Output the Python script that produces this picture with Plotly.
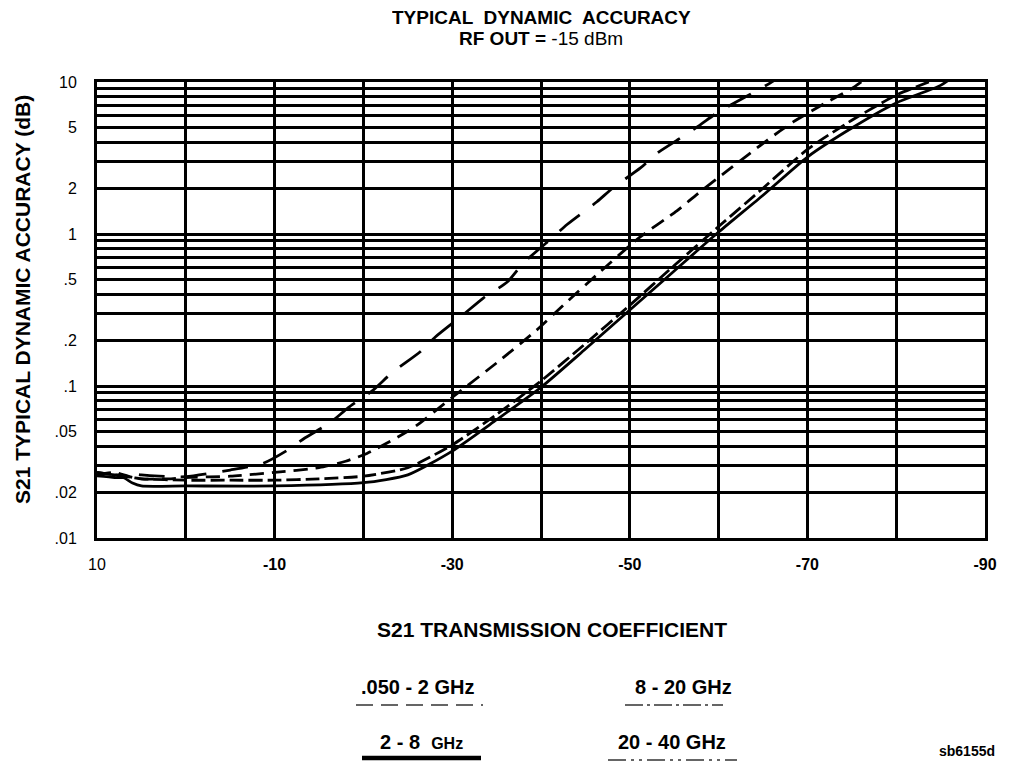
import plotly.graph_objects as go

FONT = "Liberation Sans, Arial, Helvetica, sans-serif"

# ---------------- data ----------------
# S21 transmission coefficient (dB) vs typical dynamic accuracy (dB)
x_050_2 = [10, 8, 6, 5, 3, 0, -5, -8.7, -11.5, -13.4, -16.2, -18.3, -21.1, -23.2, -26.4, -28.1,
           -31.2, -33.5, -36.2, -38.0, -41.0, -42.9, -46.3, -48.1, -51.2, -53.1, -55.7, -57.9,
           -59.8, -63.0, -65.8, -67.5]
y_050_2 = [0.027, 0.026, 0.0265, 0.026, 0.0255, 0.0253, 0.028, 0.031, 0.038, 0.0455, 0.057, 0.072,
           0.094, 0.122, 0.168, 0.21, 0.293, 0.379, 0.483, 0.644, 0.914, 1.15, 1.63, 2.01, 2.72,
           3.41, 4.28, 5.21, 6.25, 7.97, 9.84, 11.5]

x_20_40 = [10, 8, 6, 5, 2, 0, -5, -10, -15, -18, -20.4, -25.6, -30.1, -35.4, -39.5, -42.9, -46.6,
           -51.1, -55.3, -57.6, -61.1, -65.5, -68.4, -72.2, -75.1, -77]
y_20_40 = [0.026, 0.027, 0.025, 0.0245, 0.0245, 0.025, 0.0255, 0.027, 0.029, 0.032, 0.036, 0.053,
           0.085, 0.148, 0.233, 0.357, 0.56, 0.95, 1.42, 1.83, 2.64, 4.15, 5.46, 7.38, 9.13, 11.0]

x_8_20 = [10, 8, 6, 5, 0, -5, -10, -15, -20, -25, -30, -35, -40, -45, -50, -55, -60, -65, -70,
          -75, -80, -84, -86]
y_8_20 = [0.027, 0.026, 0.025, 0.0245, 0.024, 0.024, 0.024, 0.0245, 0.0255, 0.029, 0.041, 0.065,
          0.108, 0.19, 0.34, 0.62, 1.12, 2.0, 3.6, 5.6, 8.2, 10.2, 11.5]

x_2_8 = [10, 8, 7, 6, 5, 0, -10, -20, -25, -30, -35, -40, -45, -50, -55, -60, -65, -70, -75, -80,
         -85, -87]
y_2_8 = [0.0256, 0.025, 0.0249, 0.023, 0.022, 0.022, 0.022, 0.0231, 0.026, 0.0373, 0.06, 0.098,
         0.175, 0.316, 0.571, 1.03, 1.8, 3.21, 4.98, 7.28, 9.5, 11.5]

# axis ticks
x_tickvals = [10, 0, -10, -20, -30, -40, -50, -60, -70, -80, -90]
x_ticktext = ["10", "", "<b>-10</b>", "", "<b>-30</b>", "", "<b>-50</b>", "", "<b>-70</b>", "", "<b>-90</b>"]

y_labels = {10: "10", 5: "5", 2: "2", 1: "1", 0.5: ".5", 0.2: ".2", 0.1: ".1",
            0.05: ".05", 0.02: ".02", 0.01: ".01"}
y_tickvals = []
for e in [0.01, 0.1, 1]:
    for k in range(1, 10):
        y_tickvals.append(round(k * e, 4))
y_tickvals.append(10)
y_ticktext = [y_labels.get(v, "") for v in y_tickvals]

# ---------------- figure ----------------
fig = go.Figure()
series = [
    (x_050_2, y_050_2, "26px,16px", ".050 - 2 GHz"),
    (x_20_40, y_20_40, "14px,8px", "20 - 40 GHz"),
    (x_8_20, y_8_20, "14px,5px", "8 - 20 GHz"),
    (x_2_8, y_2_8, "solid", "2 - 8 GHz"),
]
for xs, ys, dash, name in series:
    fig.add_trace(go.Scatter(x=xs, y=ys, mode="lines", name=name,
                             line=dict(color="black", width=2.8, dash=dash, shape="spline", smoothing=0.6),
                             showlegend=False))

OFF = 8  # page body margin of the html page
W, H = 1013 - OFF, 762 - OFF
L, R, T, B = 97 - OFF, 985 - OFF, 82 - OFF, 538 - OFF


def P(px, py):
    # reference-screen pixel -> paper coordinates
    px -= OFF
    py -= OFF
    return (px - L) / (R - L), (B - py) / (B - T)


annotations = []


def text(px, py, s, size=18, angle=0, xanchor="center", yanchor="middle", height=None):
    x, y = P(px, py)
    a = dict(x=x, y=y, xref="paper", yref="paper", text=s, showarrow=False,
             textangle=angle, xanchor=xanchor, yanchor=yanchor, borderpad=0,
             font=dict(family=FONT, size=size, color="black"))
    if height is not None:
        a["height"] = height
    annotations.append(a)


text(541, 17, "<b>TYPICAL  DYNAMIC  ACCURACY</b>", 19, height=18)
text(541, 38, "<b>RF OUT =</b> -15 dBm", 19, height=18)
text(22, 300, "<b>S21 TYPICAL DYNAMIC ACCURACY (dB)</b>", 21, angle=-90)
text(552, 629, "<b>S21 TRANSMISSION COEFFICIENT</b>", 21)
text(417, 687, "<b>.050 - 2 GHz</b>", 20)
text(683, 687, "<b>8 - 20 GHz</b>", 20)
text(421, 742, "<b>2 - 8 &nbsp;<span style='font-size:16px'>GHz</span></b>", 20)
text(672, 742, "<b>20 - 40 GHz</b>", 20)
text(967, 751, "<b>sb6155d</b>", 14)

shapes = []


def glyph(x0, x1, py, dash, width=1.6, color="#333"):
    a = P(x0, py)
    b = P(x1, py)
    shapes.append(dict(type="line", xref="paper", yref="paper", x0=a[0], y0=a[1], x1=b[0], y1=b[1],
                       line=dict(color=color, width=width, dash=dash)))


glyph(356, 483, 705, "17px,8px")
glyph(625, 723, 705, "18px,4px,3px,4px")
glyph(362, 481, 758, "solid", width=4.5, color="black")
glyph(608, 737, 760, "18px,5px,3px,5px,3px,5px")

fig.update_layout(
    width=W, height=H,
    margin=dict(l=L, r=W - R, t=T, b=H - B, pad=0),
    paper_bgcolor="white", plot_bgcolor="white",
    font=dict(family=FONT, color="black"),
    annotations=annotations, shapes=shapes,
    xaxis=dict(range=[10, -90], tickvals=x_tickvals, ticktext=x_ticktext, ticks="",
               showgrid=True, gridcolor="black", gridwidth=2.6, zeroline=False,
               showline=True, linecolor="black", linewidth=3, mirror=True,
               tickfont=dict(family=FONT, size=16), ticklabelstandoff=10),
    yaxis=dict(type="log", range=[-2, 1], tickvals=y_tickvals, ticktext=y_ticktext, ticks="",
               showgrid=True, gridcolor="black", gridwidth=2.6, zeroline=False,
               showline=True, linecolor="black", linewidth=3, mirror=True,
               tickfont=dict(family=FONT, size=16), ticklabelstandoff=14),
)

fig.write_html("out.html")
